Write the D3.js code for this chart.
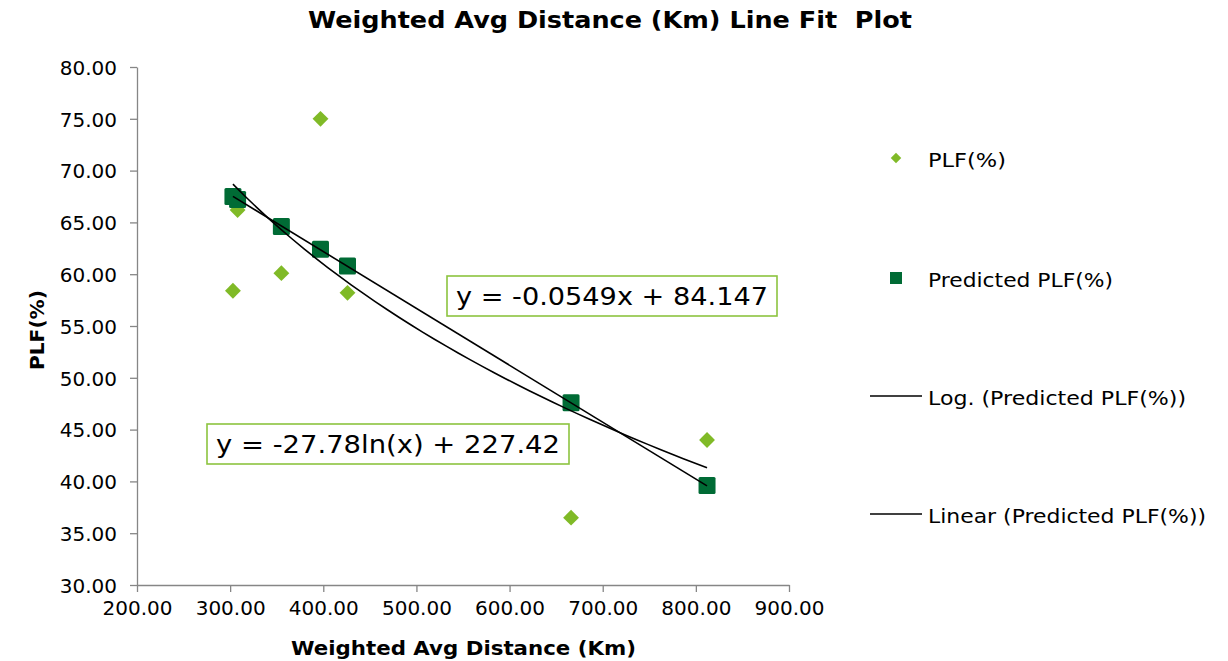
<!DOCTYPE html>
<html>
<head>
<meta charset="utf-8">
<script src="https://cdn.jsdelivr.net/npm/d3@7"></script>
<style>
  body { margin: 0; background: #fff; }
  svg { display: block; }
  svg text { font-family: "DejaVu Sans", Verdana, sans-serif; }
  .axis path, .axis line { stroke: #868686; stroke-width: 1.3; }
  .axis text { font-size: 20px; fill: #000; }
</style>
</head>
<body>
<svg id="chart" width="1228" height="661"></svg>
<script>
// distances (km) and observed / predicted PLF
const distance = [303, 308, 355, 397, 426, 666, 812];
const plf = [58.4, 66.2, 60.1, 75.0, 58.2, 36.5, 44.0];
const predictedPlf = [67.5, 67.2, 64.6, 62.4, 60.8, 47.6, 39.6];

// trendline coefficients as shown on the chart
const linearFit = { slope: -0.0549, intercept: 84.147 };
const logFit = { a: -27.78, b: 227.42 };

const xTicks = [200, 300, 400, 500, 600, 700, 800, 900];
const yTicks = [30, 35, 40, 45, 50, 55, 60, 65, 70, 75, 80];

const legendLabels = ["PLF(%)", "Predicted PLF(%)", "Log. (Predicted PLF(%))", "Linear (Predicted PLF(%))"];
const legendWidths = [78, 185, 258, 278];

const drawChart = ()=>{
    let svg = d3.select("#chart");

    let margin = { top: 67, left: 137, right: 439, bottom: 76 };
    let width = svg.attr("width") - margin.left - margin.right;
    let height = svg.attr("height") - margin.top - margin.bottom;

    let g = svg.append("g").attr("transform", "translate(" + margin.left + "," + margin.top + ")");

    let xScale = d3.scaleLinear().range([0, width]).domain([200, 900]);
    let yScale = d3.scaleLinear().range([height, 0]).domain([30, 80]);

    let xAxis = d3.axisBottom().scale(xScale).tickValues(xTicks).tickSize(7).tickSizeOuter(0).tickFormat(d3.format(".2f"));
    let yAxis = d3.axisLeft().scale(yScale).tickValues(yTicks).tickSize(7).tickSizeOuter(0).tickFormat(d3.format(".2f"));

    g.append("g")
    .attr("class", "x axis")
    .attr("transform", "translate(0," + height + ")")
    .call(xAxis)
    .selectAll("text").attr("dy", "1.0em");

    g.append("g")
    .attr("class", "y axis")
    .call(yAxis)
    .selectAll("text").attr("x", -20).attr("dy", "0.36em");

    // observed points
    let diamond = d3.symbol().type(d3.symbolDiamond2).size(160);
    g.selectAll(".plf")
    .data(distance.map((d, i)=>[d, plf[i]]))
    .enter().append("path")
    .attr("class", "plf")
    .attr("d", diamond)
    .attr("transform", (d)=>"translate(" + xScale(d[0]) + "," + yScale(d[1]) + ")")
    .attr("fill", "#80ba27");

    // predicted points
    let sq = 17;
    g.selectAll(".pred")
    .data(distance.map((d, i)=>[d, predictedPlf[i]]))
    .enter().append("rect")
    .attr("class", "pred")
    .attr("x", (d)=>xScale(d[0]) - sq/2)
    .attr("y", (d)=>yScale(d[1]) - sq/2)
    .attr("width", sq)
    .attr("height", sq)
    .attr("rx", 1.5)
    .attr("fill", "#006b35");

    // trendlines over the data range
    let xMin = d3.min(distance), xMax = d3.max(distance);
    let samples = d3.range(0, 41).map((i)=>xMin + (xMax - xMin) * i / 40);

    let line = d3.line()
    .x(function(d) { return xScale(d[0]); })
    .y(function(d) { return yScale(d[1]); });

    g.append("path")
    .datum(samples.map((x)=>[x, logFit.a * Math.log(x) + logFit.b]))
    .attr("d", line)
    .attr("fill", "none")
    .attr("stroke", "#000")
    .attr("stroke-width", 1.6);

    g.append("path")
    .datum([xMin, xMax].map((x)=>[x, linearFit.slope * x + linearFit.intercept]))
    .attr("d", line)
    .attr("fill", "none")
    .attr("stroke", "#000")
    .attr("stroke-width", 1.6);

    // equation labels
    const eqBox = (txt, x0, x1, cy)=>{
        let box = svg.append("g");
        box.append("rect")
        .attr("x", x0).attr("y", cy - 20)
        .attr("width", x1 - x0).attr("height", 40)
        .attr("fill", "#fff")
        .attr("stroke", "#8cc43f")
        .attr("stroke-width", 1.6);
        box.append("text")
        .attr("x", x0 + 9).attr("y", cy)
        .attr("dy", "0.36em")
        .attr("font-size", "25px")
        .attr("textLength", x1 - x0 - 18)
        .attr("lengthAdjust", "spacingAndGlyphs")
        .text(txt);
    };
    eqBox("y = -0.0549x + 84.147", 447, 777, 296);
    eqBox("y = -27.78ln(x) + 227.42", 207, 569, 444);

    // titles
    svg.append("text")
    .attr("x", 308).attr("y", 28)
    .attr("font-weight", "bold")
    .attr("font-size", "23px")
    .attr("textLength", 604)
    .attr("lengthAdjust", "spacingAndGlyphs")
    .text("Weighted Avg Distance (Km) Line Fit\u00a0 Plot");

    svg.append("text")
    .attr("x", 291).attr("y", 655)
    .attr("font-weight", "bold")
    .attr("font-size", "20px")
    .attr("textLength", 345)
    .attr("lengthAdjust", "spacingAndGlyphs")
    .text("Weighted Avg Distance (Km)");

    svg.append("text")
    .attr("transform", "translate(44,370) rotate(-90)")
    .attr("font-weight", "bold")
    .attr("font-size", "20px")
    .attr("textLength", 80)
    .attr("lengthAdjust", "spacingAndGlyphs")
    .text("PLF(%)");

    // legend
    let legendY = [158, 278, 396, 514];
    let lg = svg.append("g");
    lg.append("path")
    .attr("d", d3.symbol().type(d3.symbolDiamond2).size(70))
    .attr("transform", "translate(896," + legendY[0] + ")")
    .attr("fill", "#80ba27");
    lg.append("rect")
    .attr("x", 890).attr("y", legendY[1] - 6)
    .attr("width", 12).attr("height", 12)
    .attr("fill", "#006b35");
    [2, 3].forEach((i)=>{
        lg.append("line")
        .attr("x1", 870).attr("x2", 922)
        .attr("y1", legendY[i]).attr("y2", legendY[i])
        .attr("stroke", "#000").attr("stroke-width", 1.6);
    });
    lg.selectAll("text")
    .data(legendLabels)
    .enter().append("text")
    .attr("x", 928)
    .attr("y", (d, i)=>legendY[i] + 2)
    .attr("dy", "0.36em")
    .attr("font-size", "20px")
    .attr("textLength", (d, i)=>legendWidths[i])
    .attr("lengthAdjust", "spacingAndGlyphs")
    .text((d)=>d);
};

window.onload = function(){
    drawChart();
};
</script>
</body>
</html>
